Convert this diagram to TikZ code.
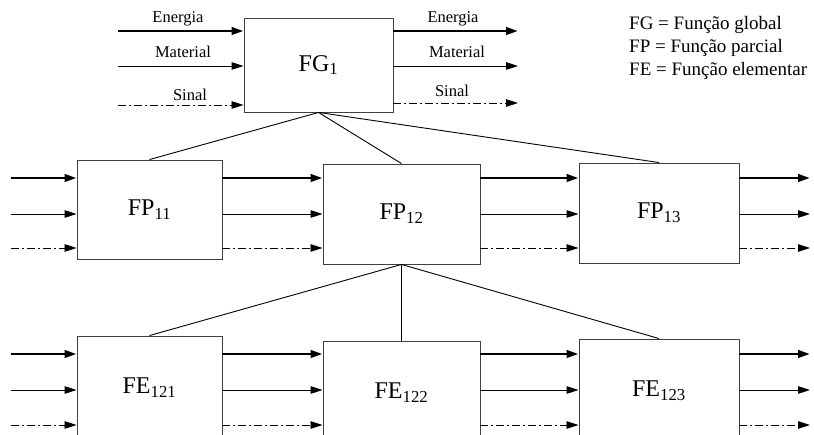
\documentclass[tikz,border=0pt]{standalone}
\usepackage{fontspec}
\setmainfont{Liberation Serif}
\usetikzlibrary{arrows.meta}
\begin{document}
\begin{tikzpicture}[x=1pt,y=-1pt,
  fbox/.style={draw=black!75, line width=0.9pt, fill=white, inner sep=0pt,
    font=\fontsize{24}{27}\selectfont},
  flowlabel/.style={font=\fontsize{16.5}{19}\selectfont, inner sep=0pt, anchor=base},
  legend/.style={font=\fontsize{19}{22}\selectfont, inner sep=0pt, anchor=base west},
  tip/.style={-{Triangle[length=12pt,width=7.5pt]}},
  energy/.style={tip, line width=2.6pt},
  matter/.style={tip, line width=0.9pt},
  signal/.style={tip, line width=0.8pt, dash pattern=on 8pt off 3pt on 2pt off 3pt},
  link/.style={line width=0.9pt}]
\useasboundingbox (0,0) rectangle (814,435);
\clip (0,0) rectangle (814,435);

% function blocks
\node[fbox, minimum width=149pt, minimum height=94pt]  (FG1)   at (318.5,65)  {FG\textsubscript{1}};
\node[fbox, minimum width=145pt, minimum height=99pt]  (FP11)  at (149.5,209.5) {FP\textsubscript{11}};
\node[fbox, minimum width=157pt, minimum height=100pt] (FP12)  at (401.5,214) {FP\textsubscript{12}};
\node[fbox, minimum width=160pt, minimum height=100pt] (FP13)  at (659,213)   {FP\textsubscript{13}};
\node[fbox, minimum width=145pt, minimum height=104pt] (FE121) at (149.5,388) {FE\textsubscript{121}};
\node[fbox, minimum width=157pt, minimum height=104pt] (FE122) at (401.5,393) {FE\textsubscript{122}};
\node[fbox, minimum width=160pt, minimum height=104pt] (FE123) at (659,391)   {FE\textsubscript{123}};

% hierarchy links
\draw[link] (FG1.south) -- (FP11.north);
\draw[link] (FG1.south) -- (FP12.north);
\draw[link] (FG1.south) -- (FP13.north);
\draw[link] (FP12.south) -- (FE121.north);
\draw[link] (FP12.south) -- (FE122.north);
\draw[link] (FP12.south) -- (FE123.north);

% flows of the global function
\coordinate (gInE) at (118,31);
\coordinate (gInM) at (118,66);
\coordinate (gInS) at (118,105);
\coordinate (gOutE) at (518,31);
\coordinate (gOutM) at (518,66);
\coordinate (gOutS) at (518,103);
\draw[energy] (gInE) -- (gInE -| FG1.west);
\draw[matter] (gInM) -- (gInM -| FG1.west);
\draw[signal] (gInS) -- (gInS -| FG1.west);
\draw[energy] (FG1.east |- gOutE) -- (gOutE);
\draw[matter] (FG1.east |- gOutM) -- (gOutM);
\draw[signal] (FG1.east |- gOutS) -- (gOutS);

\node[flowlabel] (lInE) at (178,23) {Energia};
\node[flowlabel] (lInM) at (183,58) {Material};
\node[flowlabel] (lInS) at (190,101) {Sinal};
\node[flowlabel] (lOutE) at (453,23) {Energia};
\node[flowlabel] (lOutM) at (457,58) {Material};
\node[flowlabel] (lOutS) at (452,97) {Sinal};

% legend
\node[legend] (legFG) at (629,30) {FG = Função global};
\node[legend] (legFP) at (629,53) {FP = Função parcial};
\node[legend] (legFE) at (629,76) {FE = Função elementar};

% flows of the partial functions
\coordinate (pInE) at (11,178);
\coordinate (pInM) at (11,214);
\coordinate (pInS) at (11,248);
\coordinate (pOutE) at (810,178);
\coordinate (pOutM) at (810,214);
\coordinate (pOutS) at (810,248);
\draw[energy] (pInE) -- (pInE -| FP11.west);
\draw[matter] (pInM) -- (pInM -| FP11.west);
\draw[signal] (pInS) -- (pInS -| FP11.west);
\draw[energy] (FP11.east |- pInE) -- (FP12.west |- pInE);
\draw[matter] (FP11.east |- pInM) -- (FP12.west |- pInM);
\draw[signal] (FP11.east |- pInS) -- (FP12.west |- pInS);
\draw[energy] (FP12.east |- pInE) -- (FP13.west |- pInE);
\draw[matter] (FP12.east |- pInM) -- (FP13.west |- pInM);
\draw[signal] (FP12.east |- pInS) -- (FP13.west |- pInS);
\draw[energy] (FP13.east |- pOutE) -- (pOutE);
\draw[matter] (FP13.east |- pOutM) -- (pOutM);
\draw[signal] (FP13.east |- pOutS) -- (pOutS);

% flows of the elementary functions
\coordinate (eInE) at (11,354);
\coordinate (eInM) at (11,390);
\coordinate (eInS) at (11,425);
\coordinate (eOutE) at (810,354);
\coordinate (eOutM) at (810,390);
\coordinate (eOutS) at (810,425);
\draw[energy] (eInE) -- (eInE -| FE121.west);
\draw[matter] (eInM) -- (eInM -| FE121.west);
\draw[signal] (eInS) -- (eInS -| FE121.west);
\draw[energy] (FE121.east |- eInE) -- (FE122.west |- eInE);
\draw[matter] (FE121.east |- eInM) -- (FE122.west |- eInM);
\draw[signal] (FE121.east |- eInS) -- (FE122.west |- eInS);
\draw[energy] (FE122.east |- eInE) -- (FE123.west |- eInE);
\draw[matter] (FE122.east |- eInM) -- (FE123.west |- eInM);
\draw[signal] (FE122.east |- eInS) -- (FE123.west |- eInS);
\draw[energy] (FE123.east |- eOutE) -- (eOutE);
\draw[matter] (FE123.east |- eOutM) -- (eOutM);
\draw[signal] (FE123.east |- eOutS) -- (eOutS);
\end{tikzpicture}
\end{document}
